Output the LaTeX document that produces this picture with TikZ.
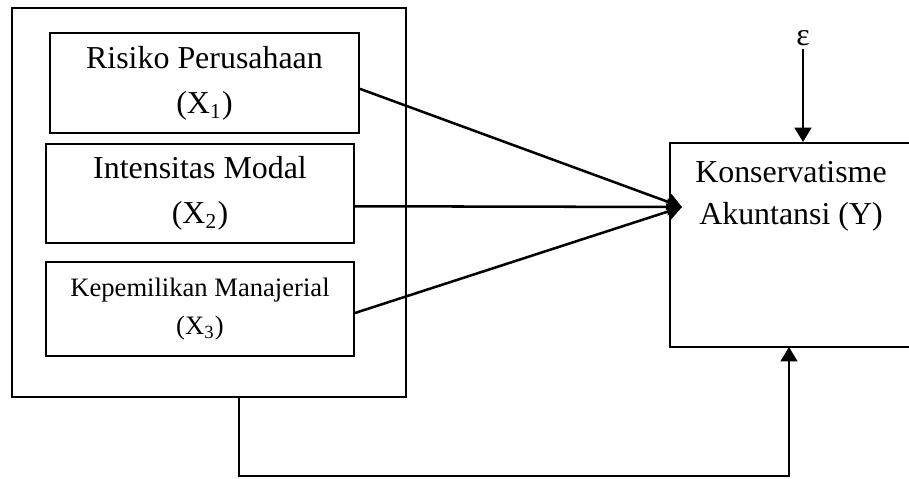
\documentclass[tikz,border=0pt]{standalone}
\usepackage{fontspec}
\setmainfont{Liberation Serif}
\usetikzlibrary{arrows.meta}

\begin{document}
\begin{tikzpicture}[x=0.01322cm, y=-0.01322cm,
    box/.style={draw, line width=0.7pt, align=center, inner sep=0pt, font=\fontsize{12}{17}\selectfont},
    arr/.style={line width=0.95pt, -{Triangle[length=0.19cm, width=0.22cm]}}]
\useasboundingbox (0,0) rectangle (909,479);
    \node[box, minimum width=5.209cm, minimum height=5.143cm] (outer) at (209,202.5) {};
    \node[box, minimum width=4.085cm, minimum height=1.322cm] (x1) at (204.5,83) {Risiko Perusahaan\\(X\textsubscript{1})};
    \node[box, minimum width=4.072cm, minimum height=1.309cm] (x2) at (200,193.5) {Intensitas Modal\\(X\textsubscript{2})};
    \node[box, minimum width=4.072cm, minimum height=1.243cm, font=\fontsize{10}{14}\selectfont] (x3) at (200,309) {Kepemilikan Manajerial\\(X\textsubscript{3})};
    \node[box, minimum width=3.199cm, minimum height=2.697cm,
          label={[anchor=north, align=center, inner sep=0pt, yshift=-7pt, font=\fontsize{12}{16}\selectfont]north:Konservatisme\\Akuntansi (Y)}] (y) at (791,245) {};
    \node[font=\fontsize{12}{14}\selectfont, inner sep=1pt] (eps) at (803,38) {ε};
    \coordinate (tip) at (682,207);
    \coordinate (back) at (239,476);
    % arrows
    \draw[arr] ([yshift=-2.2pt]x1.east) -- (tip);
    \draw[arr] ([xshift=-0.6pt, yshift=-4.8pt]x2.east) -- (tip);
    \draw[arr] ([yshift=-1.5pt]x3.east) -- (tip);
    \draw[arr] (eps.south) -- (eps |- y.north);
    \draw[arr] (back |- outer.south) -- (back) -| (789,347);
\end{tikzpicture}
\end{document}
